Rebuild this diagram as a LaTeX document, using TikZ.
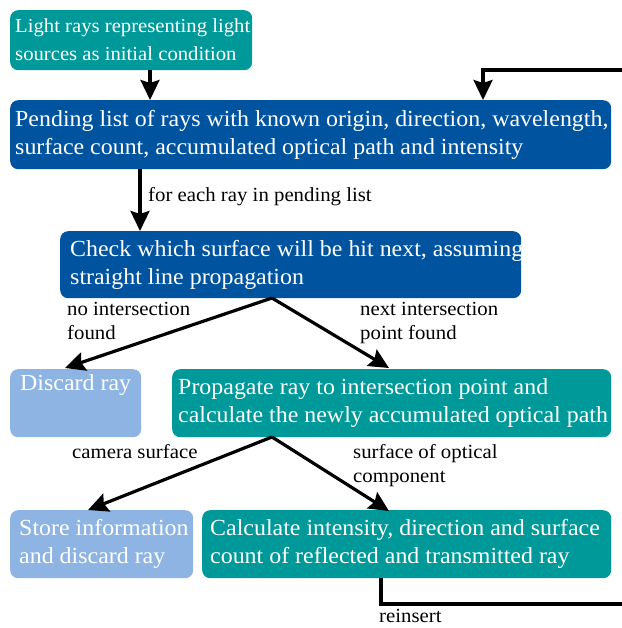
\documentclass[tikz,border=0pt]{standalone}
\usepackage{fontspec}
\setmainfont[FakeStretch=1.04]{Liberation Serif}
\usetikzlibrary{arrows.meta}
\definecolor{tealc}{RGB}{0,153,153}
\definecolor{darkb}{RGB}{0,84,159}
\definecolor{lightb}{RGB}{141,180,226}
\begin{document}
\begin{tikzpicture}[x=1pt,y=-1pt,
  box/.style={rounded corners=8pt, anchor=north west, inner sep=0pt, draw=none},
  btxt/.style={text=white, align=left, inner sep=0pt, font=\fontsize{23}{28}\selectfont},
  lbl/.style={anchor=north west, align=left, inner sep=0pt, font=\fontsize{20}{24}\selectfont},
  arr/.style={line width=3.2pt, -{Stealth[length=20pt,width=19pt,inset=3pt]}},
  ln/.style={line width=3.2pt}]
\useasboundingbox (0,0) rectangle (621,628);
% boxes
\node[box, fill=tealc, minimum width=242pt, minimum height=60pt] (b1) at (10,10) {};
\node[btxt, anchor=west, font=\fontsize{19.9}{28}\selectfont] (t1) at ([xshift=5pt,yshift=1pt]b1.west) {Light rays representing light\\sources as initial condition};
\node[box, fill=darkb, minimum width=601pt, minimum height=69pt] (b2) at (10,100) {};
\node[btxt, anchor=west] (t2) at ([xshift=5pt]b2.west) {Pending list of rays with known origin, direction, wavelength,\\surface count, accumulated optical path and intensity};
\node[box, fill=darkb, minimum width=461pt, minimum height=67pt] (b3) at (60,231) {};
\node[btxt, anchor=west] (t3) at ([xshift=10pt]b3.west) {Check which surface will be hit next, assuming\\straight line propagation};
\node[box, fill=lightb, minimum width=131pt, minimum height=68pt] (b4) at (10,369) {};
\node[btxt, anchor=north west] (t4) at (20,374) {Discard ray};
\node[box, fill=tealc, minimum width=439pt, minimum height=68pt] (b5) at (172,369) {};
\node[btxt, anchor=west] (t5) at ([xshift=6pt]b5.west) {Propagate ray to intersection point and\\calculate the newly accumulated optical path};
\node[box, fill=lightb, minimum width=183pt, minimum height=68pt] (b6) at (10,510) {};
\node[btxt, anchor=west] (t6) at ([xshift=9pt]b6.west) {Store information\\and discard ray};
\node[box, fill=tealc, minimum width=409pt, minimum height=68pt] (b7) at (202,510) {};
\node[btxt, anchor=west] (t7) at ([xshift=8pt]b7.west) {Calculate intensity, direction and surface\\count of reflected and transmitted ray};
% connectors
\draw[arr] (b1.south west -| 150,0) -- (b2.north west -| 150,0);
\draw[arr] (b2.south west -| 140,0) -- (b3.north west -| 140,0);
\node[lbl] (l1) at (148,187) {for each ray in pending list};
\coordinate (s3) at (272,298);
\coordinate (e4) at (65,368);
\coordinate (e5) at (389,368);
\draw[arr] (s3) -- (e4);
\draw[arr] (s3) -- (e5);
\node[lbl] (l2) at (67,302) {no intersection\\found};
\node[lbl] (l3) at (360,302) {next intersection\\point found};
\coordinate (s5) at (272,437);
\coordinate (e6) at (88,510);
\coordinate (e7) at (389,511);
\draw[arr] (s5) -- (e6);
\draw[arr] (s5) -- (e7);
\node[lbl] (l4) at (72,444) {camera surface};
\node[lbl] (l5) at (353,444) {surface of optical\\component};
% feedback loop
\coordinate (f0) at (381,578);
\coordinate (f1) at (381,604);
\coordinate (f2) at (622,604);
\coordinate (f3) at (622,70);
\coordinate (f4) at (483,70);
\coordinate (f5) at (483,100);
\draw[ln] (f0) -- (f1) -- (f2);
\draw[arr] (f3) -- (f4) -- (f5);
\node[lbl] (l6) at (379,609) {reinsert};
\end{tikzpicture}
\end{document}
